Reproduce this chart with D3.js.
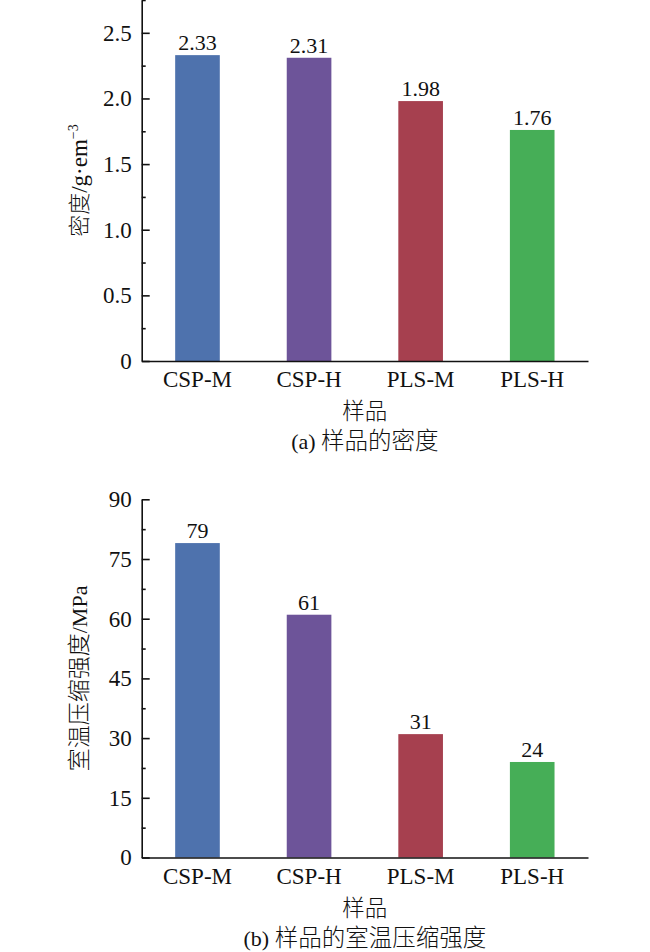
<!DOCTYPE html>
<html>
<head>
<meta charset="utf-8">
<script src="https://cdn.jsdelivr.net/npm/d3@7"></script>
<style>
  body { margin: 0; background: #fff; }
  svg { display: block; }
  text { font-family: "Liberation Serif", "Noto Sans CJK SC", serif; fill: #111; }
  .cjk { font-family: "Noto Sans CJK SC", sans-serif; font-weight: 300; }
  .axis path, .axis line { stroke: #111; stroke-width: 1.6; }
</style>
</head>
<body>
<svg id="chart" width="650" height="952"></svg>
<script>
// data
const samples = ['CSP-M', 'CSP-H', 'PLS-M', 'PLS-H']
const density = [2.33, 2.31, 1.98, 1.76]
const strength = [79, 61, 31, 24]
const densityTicks = [0, 0.5, 1.0, 1.5, 2.0, 2.5]
const densityTickLabels = ['0', '0.5', '1.0', '1.5', '2.0', '2.5']
const strengthTicks = [0, 15, 30, 45, 60, 75, 90]
const strengthTickLabels = ['0', '15', '30', '45', '60', '75', '90']

const barColors = ['#4e72ad', '#6d5499', '#a6404f', '#46ae57']

const svg = d3.select('#chart')
const left = 141.7, right = 588

const xScale = d3.scaleBand()
  .domain(samples)
  .range([left, right])
  .paddingInner(0.6)
  .paddingOuter(0.3)

// mixed latin / cjk text: parts = [[text, isCjk], ...]
function mixed(t, parts, latinSize, cjkSize) {
  parts.forEach(([s, cjk]) => {
    t.append('tspan')
      .attr('class', cjk ? 'cjk' : null)
      .attr('font-size', cjk ? cjkSize : latinSize)
      .text(s)
  })
}

function drawPanel(opts) {
  const { values, ticks, tickLabels, yMax, minorStep, y0, y1, yLabel, valueFmt, caption } = opts
  const yScale = d3.scaleLinear().domain([0, yMax]).range([y0, y1])

  // minor ticks
  const minor = d3.range(minorStep, yMax + 1e-9, minorStep)
    .filter(v => !ticks.some(t => Math.abs(t - v) < 1e-9))
  svg.append('g')
    .attr('class', 'axis')
    .attr('transform', `translate(${left},0)`)
    .call(d3.axisLeft(yScale).tickValues(minor).tickSize(-4).tickFormat(''))
    .call(g => g.select('.domain').remove())

  // y axis
  svg.append('g')
    .attr('class', 'axis')
    .attr('transform', `translate(${left},0)`)
    .call(d3.axisLeft(yScale)
      .tickValues(ticks)
      .tickSizeInner(-8)
      .tickSizeOuter(0)
      .tickPadding(10)
      .tickFormat((d, i) => tickLabels[i]))
    .call(g => g.selectAll('text').attr('font-size', 23))

  // bars
  svg.append('g').selectAll('rect')
    .data(values)
    .enter()
    .append('rect')
    .attr('x', (d, i) => xScale(samples[i]))
    .attr('y', d => yScale(d))
    .attr('width', xScale.bandwidth())
    .attr('height', d => y0 - yScale(d))
    .attr('fill', (d, i) => barColors[i])

  // value labels
  svg.append('g').selectAll('text')
    .data(values)
    .enter()
    .append('text')
    .attr('x', (d, i) => xScale(samples[i]) + xScale.bandwidth() / 2)
    .attr('y', d => yScale(d) - 5)
    .attr('text-anchor', 'middle')
    .attr('font-size', 22)
    .text(valueFmt)

  // x axis
  svg.append('g')
    .attr('class', 'axis')
    .attr('transform', `translate(0,${y0})`)
    .call(d3.axisBottom(xScale).tickSize(0).tickPadding(10))
    .call(g => g.selectAll('text').attr('font-size', 23))

  svg.append('text')
    .attr('class', 'cjk')
    .attr('x', (left + right) / 2)
    .attr('y', y0 + 58)
    .attr('text-anchor', 'middle')
    .attr('font-size', 22.5)
    .text('样品')

  svg.append('text')
    .attr('x', (left + right) / 2)
    .attr('y', y0 + 88)
    .attr('text-anchor', 'middle')
    .call(t => mixed(t, caption, 22, 23.5))

  svg.append('text')
    .attr('transform', `translate(87,${(y0 + y1) / 2}) rotate(-90)`)
    .attr('text-anchor', 'middle')
    .call(yLabel)
}

drawPanel({
  values: density,
  ticks: densityTicks,
  tickLabels: densityTickLabels,
  yMax: 2.75,
  minorStep: 0.25,
  y0: 361,
  y1: 0,
  valueFmt: d => d.toFixed(2),
  caption: [['(a) ', false], ['样品的密度', true]],
  yLabel: t => {
    mixed(t, [['密度', true], ['/g·em', false]], 23, 22)
    t.append('tspan').attr('font-size', 14).attr('dy', -9).text('−3')
  }
})

drawPanel({
  values: strength,
  ticks: strengthTicks,
  tickLabels: strengthTickLabels,
  yMax: 90,
  minorStep: 7.5,
  y0: 857.5,
  y1: 499.3,
  valueFmt: d => d,
  caption: [['(b) ', false], ['样品的室温压缩强度', true]],
  yLabel: t => mixed(t, [['室温压缩强度', true], ['/MPa', false]], 22, 23)
})
</script>
</body>
</html>
